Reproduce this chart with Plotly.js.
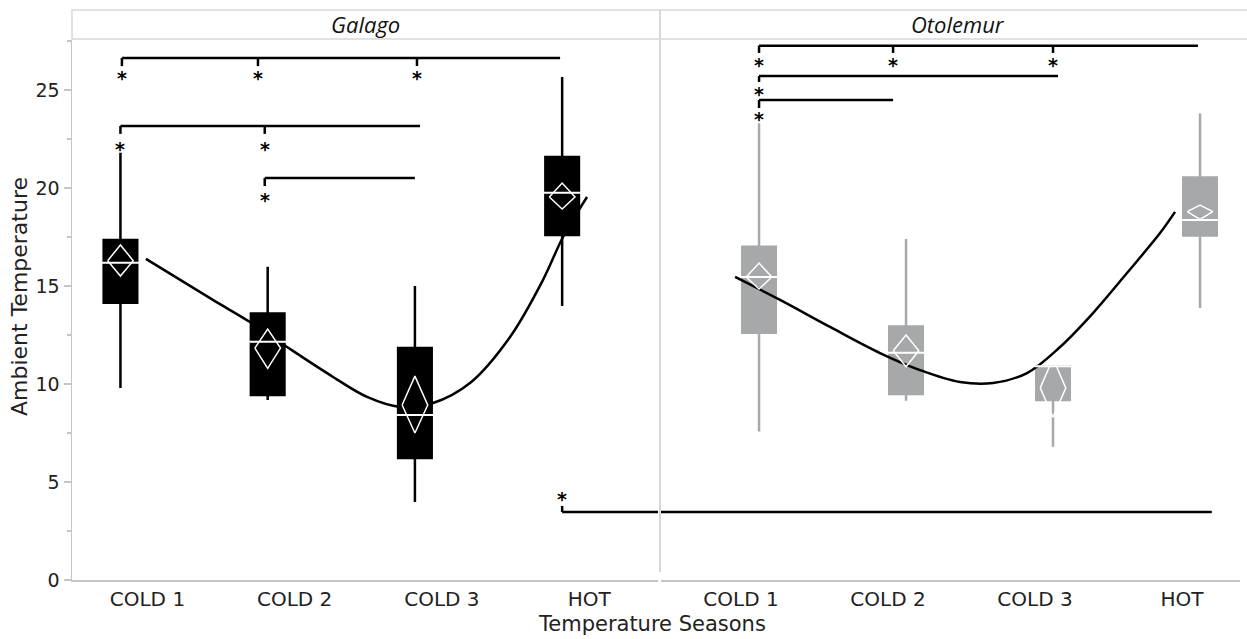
<!DOCTYPE html>
<html><head><meta charset="utf-8">
<script src="https://cdn.plot.ly/plotly-3.0.1.min.js"></script>
<style>html,body{margin:0;padding:0;background:#fff}#chart{width:1247px;height:639px}</style>
</head><body><div id="chart"></div>
<script>
// ---- categories ----
const seasons = ['COLD 1', 'COLD 2', 'COLD 3', 'HOT'];
const seasonIdx = [0, 1, 2, 3];
const panels = ['Galago', 'Otolemur'];

// ---- Galago (black) box statistics ----
const galagoLower  = [9.8, 9.18, 3.98, 13.98];
const galagoQ1     = [14.15, 9.44, 6.22, 17.6];
const galagoMedian = [16.19, 12.16, 8.42, 19.76];
const galagoQ3     = [17.35, 13.6, 11.83, 21.58];
const galagoUpper  = [21.8, 15.98, 15.0, 25.66];
const galagoMean   = [16.29, 11.83, 8.93, 19.54];
const galagoCiLow  = [15.51, 10.8, 7.5, 18.93];
const galagoCiHigh = [17.09, 12.8, 10.4, 20.25];

// ---- Otolemur (grey) box statistics ----
const otoLower  = [7.57, 9.15, 6.8, 13.88];
const otoQ1     = [12.62, 9.49, 9.18, 17.57];
const otoMedian = [15.46, 11.6, 10.9, 18.37];
const otoQ3     = [17.0, 12.93, 10.9, 20.53];
const otoUpper  = [23.3, 17.4, 10.9, 23.8];
const otoMean   = [15.46, 11.7, 9.8, 18.79];
const otoCiLow  = [14.85, 10.88, 8.3, 18.4];
const otoCiHigh = [16.17, 12.5, 11.3, 19.13];

// ---- smoothing curves ----
const galagoCurveX = [0.173, 0.628, 0.880, 1.131, 1.444, 1.675, 1.899, 2.123, 2.374, 2.646, 2.870, 3.006, 3.169];
const galagoCurveY = [16.38, 14.29, 13.16, 11.89, 10.36, 9.34, 8.83, 9.03, 10.05, 12.40, 15.31, 17.50, 19.54];
const otoCurveX = [-0.163, 0.143, 0.483, 0.823, 1.095, 1.367, 1.592, 1.823, 2.048, 2.272, 2.503, 2.728, 2.830];
const otoCurveY = [15.46, 14.29, 12.91, 11.58, 10.71, 10.10, 10.05, 10.56, 11.89, 13.62, 15.66, 17.70, 18.78];

// ---- significance brackets ----
const galagoBracketFrom  = [0.01, 0, 0.98];
const galagoBracketTo    = [2.986, 2.035, 2.0];
const galagoBracketLevel = [26.63, 23.16, 20.51];
const galagoBracketDrop  = [26.22, 22.76, 20.1];
const galagoStarY        = [25.77, 22.15, 19.54];
const galagoStarX        = [[0.01, 0.934, 2.014], [0, 0.98], [0.98]];

const otoBracketFrom  = [0, 0, 0];
const otoBracketTo    = [2.986, 2.034, 0.912];
const otoBracketLevel = [27.26, 25.71, 24.49];
const otoBracketDrop  = [26.89, 25.41, 24.08];
const otoStarY        = [26.43, 24.95, 23.67];
const otoStarX        = [[0, 0.912, 2.0], [0], [0]];

// between-genus bracket (Galago HOT vs Otolemur)
const crossFrom = 3.0, crossTo = 3.08, crossLevel = 3.47, crossDrop = 3.78, crossStarY = 4.29;

// ---- styling ----
const yRange = [0, 27.55];
const xRangeL = [-0.329, 3.651];
const xRangeR = [-0.667, 3.272];
const BOXW = 0.228, MEDHW = 0.125, DIAHW = 0.087;
const axisGrey = '#c4c4cc';
const boxGrey = '#a7a8aa';
const font = 'DejaVu Sans, Liberation Sans, sans-serif';

function boxTrace(q1, med, q3, lo, hi, color, xa, ya) {
  return {type: 'box', x: seasonIdx, q1: q1, median: med, q3: q3, lowerfence: lo, upperfence: hi,
    fillcolor: color, line: {color: color, width: 2.5}, whiskerwidth: 0, width: BOXW,
    boxpoints: false, hoverinfo: 'skip', showlegend: false, xaxis: xa, yaxis: ya};
}
function medianTrace(med, xa, ya) {
  const xs = [], ys = [];
  seasonIdx.forEach((i, k) => { xs.push(i - MEDHW, i + MEDHW, null); ys.push(med[k], med[k], null); });
  return {type: 'scatter', mode: 'lines', x: xs, y: ys, line: {color: '#fff', width: 2},
    hoverinfo: 'skip', showlegend: false, xaxis: xa, yaxis: ya};
}
function diamondTrace(mean, lo, hi, xa, ya) {
  const xs = [], ys = [];
  seasonIdx.forEach((i, k) => {
    xs.push(i - DIAHW, i, i + DIAHW, i, i - DIAHW, null);
    ys.push(mean[k], hi[k], mean[k], lo[k], mean[k], null);
  });
  return {type: 'scatter', mode: 'lines', x: xs, y: ys, line: {color: '#fff', width: 1.5},
    hoverinfo: 'skip', showlegend: false, xaxis: xa, yaxis: ya};
}
function curveTrace(cx, cy, xa, ya) {
  return {type: 'scatter', mode: 'lines', x: cx, y: cy, line: {color: '#000', width: 2.5, shape: 'spline', smoothing: 1},
    hoverinfo: 'skip', showlegend: false, xaxis: xa, yaxis: ya};
}
function bracketTrace(from, to, level, drop, starX, xa, ya) {
  const xs = [], ys = [];
  from.forEach((f, k) => {
    xs.push(f, to[k], null); ys.push(level[k], level[k], null);
    starX[k].forEach(d => { xs.push(d, d, null); ys.push(level[k], drop[k], null); });
  });
  return {type: 'scatter', mode: 'lines', x: xs, y: ys, line: {color: '#000', width: 2.5},
    hoverinfo: 'skip', showlegend: false, xaxis: xa, yaxis: ya};
}
function starAnn(x, y, xa, ya) {
  return {x: x, y: y, xref: xa, yref: ya, text: '<b>*</b>', showarrow: false, xanchor: 'center',
    font: {family: font, size: 19, color: '#000'}, yanchor: 'middle', yshift: -3};
}

const traces = [
  boxTrace(galagoQ1, galagoMedian, galagoQ3, galagoLower, galagoUpper, '#000', 'x', 'y'),
  boxTrace(otoQ1, otoMedian, otoQ3, otoLower, otoUpper, boxGrey, 'x2', 'y2'),
  curveTrace(galagoCurveX, galagoCurveY, 'x', 'y'),
  curveTrace(otoCurveX, otoCurveY, 'x2', 'y2'),
  medianTrace(galagoMedian, 'x', 'y'),
  medianTrace(otoMedian, 'x2', 'y2'),
  diamondTrace(galagoMean, galagoCiLow, galagoCiHigh, 'x', 'y'),
  diamondTrace(otoMean, otoCiLow, otoCiHigh, 'x2', 'y2'),
  bracketTrace(galagoBracketFrom, galagoBracketTo, galagoBracketLevel, galagoBracketDrop, galagoStarX, 'x', 'y'),
  bracketTrace(otoBracketFrom, otoBracketTo, otoBracketLevel, otoBracketDrop, otoStarX, 'x2', 'y2'),
  // cross-genus bracket, split over the two panels
  {type: 'scatter', mode: 'lines', x: [crossFrom, xRangeL[1] + 1, null, crossFrom, crossFrom],
   y: [crossLevel, crossLevel, null, crossLevel, crossDrop], line: {color: '#000', width: 2.5},
   hoverinfo: 'skip', showlegend: false, xaxis: 'x', yaxis: 'y'},
  {type: 'scatter', mode: 'lines', x: [xRangeR[0] - 1, crossTo], y: [crossLevel, crossLevel],
   line: {color: '#000', width: 2.5}, hoverinfo: 'skip', showlegend: false, xaxis: 'x2', yaxis: 'y2'}
];

const annotations = [];
galagoStarX.forEach((xs, k) => xs.forEach(x => annotations.push(starAnn(x, galagoStarY[k], 'x', 'y'))));
otoStarX.forEach((xs, k) => xs.forEach(x => annotations.push(starAnn(x, otoStarY[k], 'x2', 'y2'))));
annotations.push(starAnn(crossFrom, crossStarY, 'x', 'y'));

// plot geometry (px) -> paper helpers
const W = 1247, H = 639, M = {l: 72, r: 7, t: 40, b: 59};
const pw = W - M.l - M.r, ph = H - M.t - M.b;
const px2paper = p => (p - M.l) / pw;
const py2paper = p => (H - M.b - p) / ph;
const domL = [0, px2paper(658)], domR = [px2paper(661), 1];
const headFont = {family: 'Open Sans, Noto Sans, sans-serif', size: 22, color: '#111'};

annotations.push(
  {xref: 'paper', yref: 'paper', x: (domL[0] + domL[1]) / 2, y: py2paper(24), text: '<i>' + panels[0] + '</i>',
   showarrow: false, xanchor: 'center', yanchor: 'middle', font: headFont},
  {xref: 'paper', yref: 'paper', x: (domR[0] + domR[1]) / 2 + 0.006, y: py2paper(24), text: '<i>' + panels[1] + '</i>',
   showarrow: false, xanchor: 'center', yanchor: 'middle', font: headFont},
  {xref: 'paper', yref: 'paper', x: px2paper(652), y: py2paper(624), text: 'Temperature Seasons',
   showarrow: false, xanchor: 'center', yanchor: 'middle', font: {family: font, size: 21, color: '#222'}},
  {xref: 'paper', yref: 'paper', x: px2paper(19), y: py2paper(297), text: 'Ambient Temperature', textangle: -90,
   showarrow: false, xanchor: 'center', yanchor: 'middle', font: {family: font, size: 22, color: '#222'}}
);

const shapes = [
  {type: 'rect', xref: 'paper', yref: 'paper', x0: 0, x1: 1 + 8 / pw, y0: py2paper(39), y1: py2paper(10),
   line: {color: '#d8d8d8', width: 1.5}, fillcolor: 'rgba(0,0,0,0)'},
  {type: 'line', xref: 'paper', yref: 'paper', x0: px2paper(660), x1: px2paper(660), y0: py2paper(572), y1: py2paper(10),
   line: {color: '#d8d8d8', width: 2}}
];

const xCommon = {showgrid: false, zeroline: false, showline: true, linecolor: axisGrey, linewidth: 1.5,
  ticks: '', tickmode: 'array', tickvals: seasonIdx, ticktext: seasons, anchor: 'y',
  tickfont: {family: font, size: 20, color: '#222'}, ticklabelstandoff: 0};
const yCommon = {range: yRange, showgrid: false, zeroline: false, domain: [0, 1]};

const layout = {
  width: W, height: H, margin: M, paper_bgcolor: '#fff', plot_bgcolor: '#fff', showlegend: false,
  xaxis: Object.assign({}, xCommon, {domain: domL, range: xRangeL, anchor: 'y', ticklabelshift: 27}),
  xaxis2: Object.assign({}, xCommon, {domain: domR, range: xRangeR, anchor: 'y2', ticklabelshift: -18}),
  yaxis: Object.assign({}, yCommon, {anchor: 'x', showline: true, linecolor: axisGrey, linewidth: 1.5,
    ticks: 'outside', ticklen: 7, tickcolor: axisGrey, tickwidth: 1.5, tickvals: [0, 5, 10, 15, 20, 25],
    tickfont: {family: font, size: 19, color: '#222'},
    minor: {tickvals: [2.5, 7.5, 12.5, 17.5, 22.5, 27.5], ticks: 'outside', ticklen: 4, tickcolor: axisGrey, tickwidth: 1.5}}),
  yaxis2: Object.assign({}, yCommon, {anchor: 'x2', showline: false, showticklabels: false, ticks: '', matches: 'y'}),
  annotations: annotations, shapes: shapes
};

Plotly.newPlot('chart', traces, layout, {displayModeBar: false, staticPlot: true});
</script></body></html>
